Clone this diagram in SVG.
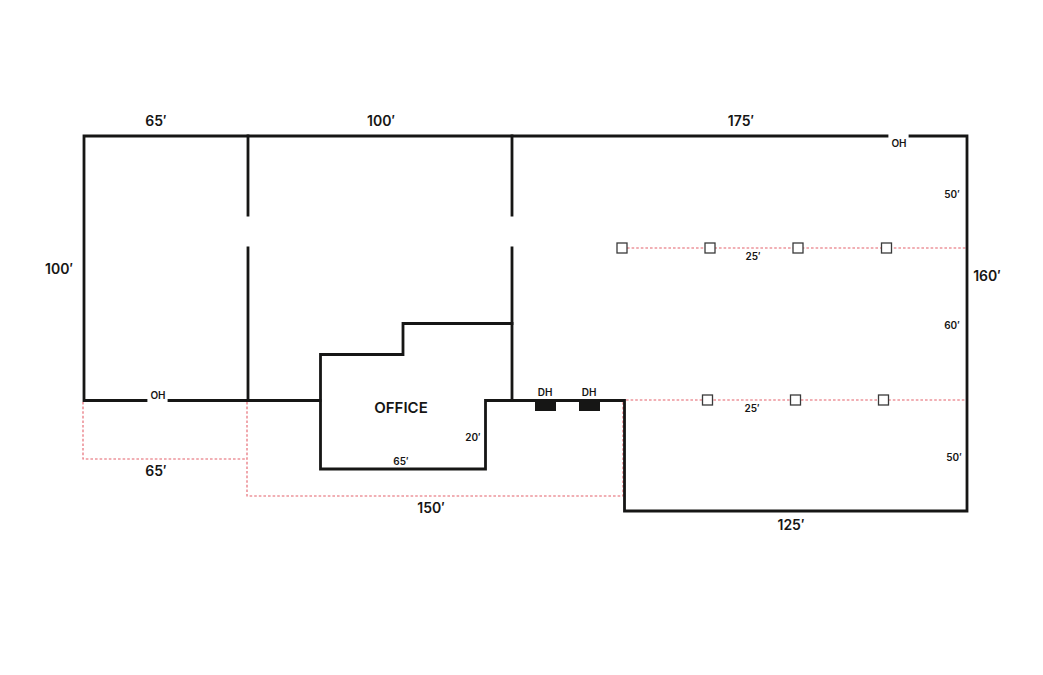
<svg xmlns="http://www.w3.org/2000/svg" width="1043" height="675" viewBox="0 0 1043 675">
<style>
.w{fill:none;stroke:#161615;stroke-width:2.8;stroke-linecap:square;stroke-linejoin:miter}
.d{fill:none;stroke:#e4606a;stroke-width:1.1;stroke-dasharray:2.6 2}
.c{fill:#fff;stroke:#3a3a3a;stroke-width:1.3}
.dh{fill:#161615}
text{font-family:"Inter","Liberation Sans",sans-serif;fill:#161615;text-anchor:middle;font-weight:600}
.l{font-size:14px}
.s{font-size:10px}
.o{font-size:15px;font-weight:600}
</style>
<rect width="1043" height="675" fill="#fff"/>
<g id="dashed">
<path class="d" d="M83 402V459H247"/>
<path class="d" d="M247 402V496H623V402"/>
<path class="d" d="M626 400H966M627 248H966"/>
</g>
<g id="walls">
<path class="w" d="M146 400.500H84V136H887M910 136H967V511H624.500V400.500H485.500V469H320.500V354.500H403V323.500H512"/>
<path class="w" d="M169 400.500H320"/>
<path class="w" d="M248 136V215M248 248V400M512 136V215M512 248V400"/>
</g>
<g id="door-dock-1"><rect class="dh" x="535" y="400" width="21" height="11"/></g>
<g id="door-dock-2"><rect class="dh" x="579" y="400" width="21" height="11"/></g>
<g id="columns-upper">
<rect class="c" x="617" y="243" width="10" height="10"/>
<rect class="c" x="705" y="243" width="10" height="10"/>
<rect class="c" x="793" y="243" width="10" height="10"/>
<rect class="c" x="881.500" y="243" width="10" height="10"/>
</g>
<g id="columns-lower">
<rect class="c" x="702.500" y="395" width="10" height="10"/>
<rect class="c" x="790.500" y="395" width="10" height="10"/>
<rect class="c" x="878.500" y="395" width="10" height="10"/>
</g>
<g id="labels">
<text class="l" x="156" y="126">65′</text>
<text class="l" x="381" y="126">100′</text>
<text class="l" x="741" y="126">175′</text>
<text class="s" x="899" y="147">OH</text>
<text class="s" x="952" y="198">50′</text>
<text class="l" x="59" y="274">100′</text>
<text class="l" x="987" y="281">160′</text>
<text class="s" x="753" y="260">25′</text>
<text class="s" x="952" y="329">60′</text>
<text class="s" x="158" y="399">OH</text>
<text class="o" x="401" y="413">OFFICE</text>
<text class="s" x="545" y="396">DH</text>
<text class="s" x="589" y="396">DH</text>
<text class="s" x="752" y="412">25′</text>
<text class="s" x="473" y="441">20′</text>
<text class="s" x="401" y="465">65′</text>
<text class="s" x="954" y="461">50′</text>
<text class="l" x="156" y="476">65′</text>
<text class="l" x="431" y="513">150′</text>
<text class="l" x="791" y="530">125′</text>
</g>
</svg>
